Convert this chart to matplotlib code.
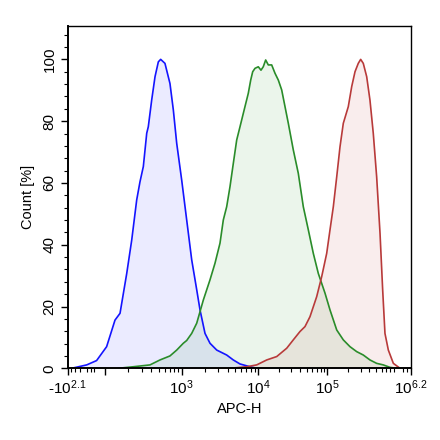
import numpy as np
import matplotlib
matplotlib.use("Agg")
import matplotlib.pyplot as plt

plt.rcParams['font.family'] = ['Liberation Sans', 'DejaVu Sans']
plt.rcParams['mathtext.fontset'] = 'custom'
plt.rcParams['mathtext.rm'] = 'Liberation Sans'

# ---- data (APC-H value, Count %) ----
blue_x = [-44, 0, 12, 105, 135, 157, 192, 223, 259, 286, 316, 350, 367, 406, 449, 496,
          532, 605, 703, 778, 861, 1000, 1162, 1351, 1571, 1734, 2015, 2342, 2866,
          3866, 4717, 5771, 7798, 9528]
blue_y = [0, 1.1, 2.5, 7.0, 15.6, 17.8, 30.7, 41.5, 54.5, 60.4, 65.3, 76.1, 78.2, 86.8,
          94.4, 99.2, 100, 98.7, 92.2, 83.6, 72.8, 60.9, 48.0, 35.1, 25.4, 18.9, 11.3,
          8.1, 5.9, 4.3, 2.7, 1.4, 0.5, 0]

green_x = [149, 234, 386, 521, 703, 861, 1049, 1162, 1351, 1571, 1916, 2339, 2720, 3162,
           3493, 3866, 4271, 4717, 5224, 5771, 6700, 7400, 7960, 8450, 9060, 10000,
           10940, 11800, 12790, 13960, 15630, 17460, 19500, 21830, 24380, 27230, 32150,
           38000, 44900, 53100, 62700, 74100, 92700, 109300, 136500, 169600, 211500,
           263600, 328000, 409000, 510000, 635000, 792000, 987000]
green_y = [0, 0.5, 1.1, 2.7, 4.0, 5.9, 8.1, 9.0, 11.3, 14.6, 22.1, 28.6, 34.0, 40.5,
           48.0, 52.3, 58.8, 66.3, 73.9, 78.2, 84.7, 89.0, 93.3, 96.0, 97.1, 97.6,
           96.5, 97.6, 99.8, 98.2, 98.2, 95.5, 93.3, 90.1, 84.7, 79.3, 70.7, 63.1,
           52.3, 44.8, 37.2, 30.7, 24.3, 18.9, 12.4, 9.2, 7.0, 5.4, 4.3, 2.7, 1.6,
           1.1, 0.3, 0]

red_x = [4271, 7060, 9530, 13240, 18490, 25820, 32150, 40180, 47500, 56100, 70200,
         83000, 98000, 109300, 122000, 136500, 152100, 169600, 200000, 223900, 249600,
         278000, 301000, 328000, 367000, 409000, 456000, 510000, 570000, 622000,
         671000, 750000, 885000, 1104000]
red_y = [0, 0.5, 1.1, 2.7, 3.8, 6.5, 9.2, 11.9, 13.5, 16.7, 23.2, 29.7, 37.2, 44.8,
         52.3, 62.0, 71.7, 79.3, 84.7, 91.2, 96.0, 98.7, 100, 98.7, 94.4, 86.8, 76.1,
         62.0, 43.7, 25.4, 11.3, 5.9, 1.6, 0]

x_ticks = [-10 ** 2.1, 1e2, 1e3, 1e4, 1e5, 10 ** 6.2]
x_ticklabels = [r'-$\mathregular{10^{2.1}}$', '', r'$\mathregular{10^{3}}$',
                r'$\mathregular{10^{4}}$', r'$\mathregular{10^{5}}$',
                r'$\mathregular{10^{6.2}}$']
y_ticks = [0, 20, 40, 60, 80, 100]

# ---- biexponential-like display scale ----
T_anchor = np.array([-2.1, 2.0, 3.0, 4.0, 5.0, 6.2])
P_anchor = np.array([67.5, 105.0, 181.7, 258.3, 327.3, 411.0])
LN10 = np.log(10)


def _interp_ext(v, xp, fp):
    v = np.asarray(v, dtype=float)
    out = np.interp(v, xp, fp)
    s0 = (fp[1] - fp[0]) / (xp[1] - xp[0])
    s1 = (fp[-1] - fp[-2]) / (xp[-1] - xp[-2])
    out = np.where(v < xp[0], fp[0] + (v - xp[0]) * s0, out)
    out = np.where(v > xp[-1], fp[-1] + (v - xp[-1]) * s1, out)
    return out


def forward(x):
    t = np.arcsinh(np.asarray(x, dtype=float) / 2.0) / LN10
    return _interp_ext(t, T_anchor, P_anchor)


def inverse(p):
    t = _interp_ext(p, P_anchor, T_anchor)
    return 2.0 * np.sinh(t * LN10)


fig = plt.figure(figsize=(4.4, 4.4), dpi=100)
ax = fig.add_axes([67.5 / 440, 1 - 368.3 / 440, (411 - 67.5) / 440, (368.3 - 26) / 440])
ax.set_xscale('function', functions=(forward, inverse))

series = [
    (blue_x, blue_y, '#1414ff', (0.0, 0.0, 1.0)),
    (green_x, green_y, '#2a8c2a', (0.0, 0.5, 0.0)),
    (red_x, red_y, '#b83a3a', (0.70, 0.13, 0.13)),
]
for xs, ys, lc, fc in series:
    ax.fill_between(xs, ys, 0, color=fc, alpha=0.08, linewidth=0)
for xs, ys, lc, fc in series:
    ax.plot(xs, ys, color=lc, linewidth=1.2)

ax.set_xlim(-10 ** 2.1, 10 ** 6.2)
ax.set_ylim(0, 110.8)

ax.set_xticks(x_ticks)
ax.set_xticklabels(x_ticklabels)
minor_x = [-50, -20, -5, 0, 3, 6] + [k * 10 ** d for d in range(2, 6) for k in range(2, 10)] + [1.2e6, 1.4e6]
ax.set_xticks(minor_x, minor=True)

ax.set_yticks(y_ticks)
ax.set_yticks(np.arange(0, 110, 4), minor=True)
ax.tick_params(axis='y', which='major', labelrotation=90, labelsize=11, length=5, width=1, pad=3)
ax.tick_params(axis='x', which='major', labelsize=11, length=5, width=1, pad=2)
ax.tick_params(which='minor', length=3, width=0.8)
for lab in ax.get_yticklabels():
    lab.set_va('center')

for side in ['top', 'right']:
    ax.spines[side].set_linewidth(1.0)
for side in ['left', 'bottom']:
    ax.spines[side].set_linewidth(1.4)

ax.set_xlabel('APC-H', fontsize=10.5, labelpad=4)
ax.set_ylabel('Count [%]', fontsize=10.5, labelpad=5)

fig.savefig('out.png', dpi=100)
